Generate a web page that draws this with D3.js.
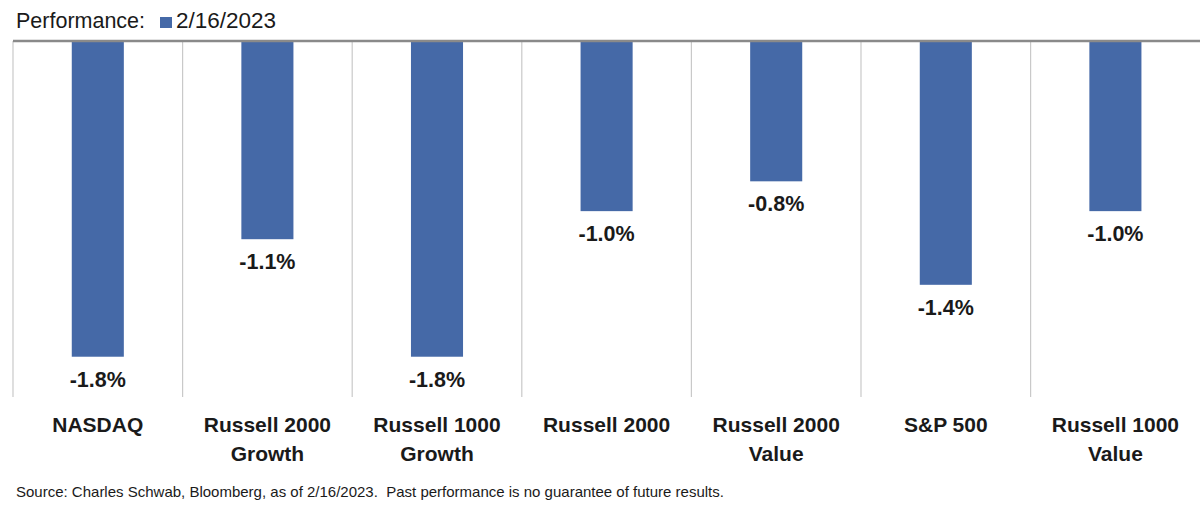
<!DOCTYPE html>
<html>
<head>
<meta charset="utf-8">
<script src="https://cdn.jsdelivr.net/npm/d3@7/dist/d3.min.js"></script>
<style>
  html, body { margin: 0; padding: 0; background: #fff; }
  svg { display: block; }
</style>
</head>
<body>
<svg id="chart" width="1200" height="509"></svg>
<script>
const categories = [
  ["NASDAQ"],
  ["Russell 2000", "Growth"],
  ["Russell 1000", "Growth"],
  ["Russell 2000"],
  ["Russell 2000", "Value"],
  ["S&P 500"],
  ["Russell 1000", "Value"]
];
const values = [-1.80, -1.13, -1.80, -0.97, -0.80, -1.39, -0.97];
const seriesName = "2/16/2023";
const legendTitle = "Performance:";
const sourceText = "Source: Charles Schwab, Bloomberg, as of 2/16/2023.  Past performance is no guarantee of future results.";

const W = 1200, H = 509;
const svg = d3.select("#chart");
const font = "'Liberation Sans', Arial, sans-serif";
const barColor = "#4569A7";
const textColor = "#1a1a1a";

const keys = categories.map((c, i) => i);
const x = d3.scaleBand().domain(keys).range([13, 13 + 7 * 169.6]).paddingInner(0).paddingOuter(0);
const y = d3.scaleLinear().domain([0, -2]).range([41, 41 + 2 * 175.4]);

const gridBottom = 397;

// vertical separators
svg.append("g").selectAll("line").data(keys).join("line")
  .attr("x1", d => x(d)).attr("x2", d => x(d))
  .attr("y1", y(0)).attr("y2", gridBottom)
  .attr("stroke", "#c9c9c9").attr("stroke-width", 1.2);

// bars
const barW = x.bandwidth() * 0.307;
svg.append("g").selectAll("rect").data(values).join("rect")
  .attr("x", (d, i) => x(i) + x.bandwidth() / 2 - barW / 2)
  .attr("y", y(0))
  .attr("width", barW)
  .attr("height", d => y(d) - y(0))
  .attr("fill", barColor);

// baseline
svg.append("line")
  .attr("x1", 13).attr("x2", W)
  .attr("y1", y(0)).attr("y2", y(0))
  .attr("stroke", "#8a8a8a").attr("stroke-width", 2.5);

// value labels
svg.append("g").selectAll("text").data(values).join("text")
  .attr("x", (d, i) => x(i) + x.bandwidth() / 2)
  .attr("y", d => y(d) + 30)
  .attr("text-anchor", "middle")
  .attr("font-family", font).attr("font-weight", "bold").attr("font-size", 21.5)
  .attr("fill", textColor)
  .text(d => d3.format(".1f")(d).replace("−", "-") + "%");

// category labels
const catG = svg.append("g");
categories.forEach((lines, i) => {
  const t = catG.append("text")
    .attr("text-anchor", "middle")
    .attr("font-family", font).attr("font-weight", "bold").attr("font-size", 21)
    .attr("fill", textColor);
  lines.forEach((ln, j) => {
    t.append("tspan")
      .attr("x", x(i) + x.bandwidth() / 2)
      .attr("y", 432 + j * 28.5)
      .text(ln);
  });
});

// legend
svg.append("text")
  .attr("x", 16).attr("y", 28)
  .attr("font-family", font).attr("font-size", 21.5)
  .attr("fill", textColor)
  .text(legendTitle);
svg.append("rect")
  .attr("x", 160).attr("y", 17).attr("width", 12).attr("height", 11)
  .attr("fill", barColor);
svg.append("text")
  .attr("x", 176).attr("y", 28)
  .attr("font-family", font).attr("font-size", 22.5)
  .attr("fill", textColor)
  .text(seriesName);

// source
svg.append("text")
  .attr("x", 16).attr("y", 497)
  .attr("font-family", font).attr("font-size", 15)
  .attr("fill", textColor)
  .attr("xml:space", "preserve")
  .style("white-space", "pre")
  .text(sourceText);
</script>
</body>
</html>
